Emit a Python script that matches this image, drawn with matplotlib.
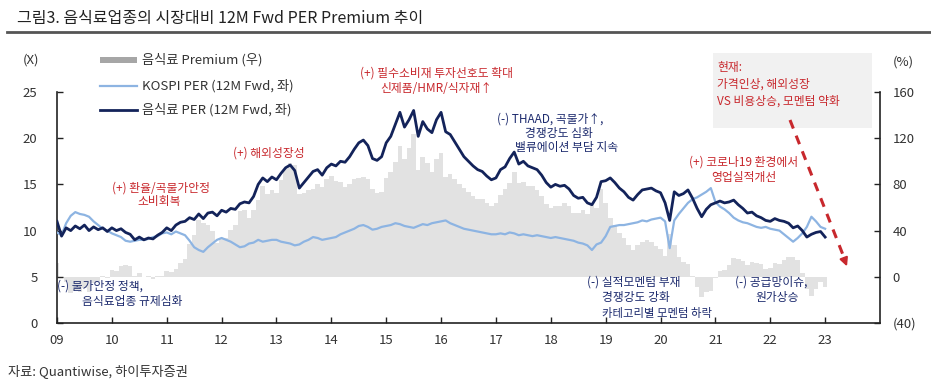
import matplotlib
matplotlib.use("Agg")
import matplotlib.pyplot as plt
import numpy as np
from matplotlib.lines import Line2D
from matplotlib.patches import Rectangle, FancyArrowPatch

plt.rcParams['font.family'] = ['Noto Sans CJK KR', 'DejaVu Sans']

# ---------------- data (monthly, Jan 2009 .. Jan 2023) ----------------
start_year = 2009
food_per = [
    # 2009
    11.0, 9.4, 10.3, 10.0, 10.5, 10.2, 10.6, 10.0, 10.4, 10.1, 10.3, 9.9,
    # 2010
    10.3, 10.0, 10.2, 9.8, 9.6, 9.0, 9.3, 9.0, 9.2, 9.1, 9.5, 9.8,
    # 2011
    10.3, 10.0, 10.6, 10.9, 11.0, 11.4, 11.2, 11.8, 11.3, 11.9, 12.0, 11.6,
    # 2012
    12.2, 12.0, 12.4, 12.3, 12.9, 13.1, 13.0, 13.7, 15.0, 15.7, 15.3, 15.8,
    # 2013
    15.5, 16.2, 16.8, 17.1, 16.5, 14.6, 15.2, 15.8, 16.4, 16.6, 16.0, 16.8,
    # 2014
    17.2, 17.0, 17.5, 17.4, 18.0, 18.8, 19.5, 19.8, 19.2, 17.8, 17.6, 18.0,
    # 2015
    19.5, 20.2, 21.5, 22.8, 21.2, 22.0, 23.0, 20.2, 21.8, 21.0, 20.6, 22.0,
    # 2016
    22.8, 20.7, 20.4, 19.6, 18.8, 18.0, 17.5, 17.0, 16.6, 16.4, 15.9, 15.5,
    # 2017
    15.7, 16.6, 16.9, 17.8, 18.5, 17.2, 17.5, 17.0, 16.8, 16.6, 16.0, 15.2,
    # 2018
    14.7, 15.0, 14.8, 14.9, 14.5, 13.8, 13.5, 13.6, 13.0, 12.8, 13.6, 15.3,
    # 2019
    15.4, 15.7, 15.2, 14.6, 14.2, 13.6, 13.3, 13.9, 14.4, 14.5, 14.6, 14.3,
    # 2020
    14.1, 13.0, 11.1, 14.2, 13.8, 14.0, 14.4, 13.5, 12.4, 11.5, 12.3, 12.8,
    # 2021
    13.0, 13.2, 13.0, 13.1, 13.3, 12.8, 12.4, 11.9, 12.0, 11.6, 11.4, 11.1,
    # 2022
    11.0, 11.3, 11.1, 11.0, 10.8, 10.3, 10.5, 10.0, 9.3, 9.6, 9.8, 9.9,
    # 2023
    9.3,
]
kospi_per = [
    # 2009
    9.8, 9.5, 10.8, 11.6, 12.0, 11.8, 11.7, 11.5, 11.0, 10.6, 10.2, 10.0,
    # 2010
    9.7, 9.5, 9.3, 8.9, 8.8, 8.9, 9.0, 9.0, 9.1, 9.3, 9.4, 9.7,
    # 2011
    9.8, 9.6, 9.9, 9.7, 9.5, 8.9, 8.2, 7.9, 7.7, 8.2, 8.6, 9.0,
    # 2012
    9.2, 9.0, 8.8, 8.5, 8.2, 8.3, 8.6, 8.7, 9.0, 8.8, 8.9, 9.0,
    # 2013
    9.0, 8.8, 8.7, 8.6, 8.4, 8.5, 8.8, 9.0, 9.3, 9.2, 9.0, 9.1,
    # 2014
    9.2, 9.3, 9.6, 9.8, 10.0, 10.2, 10.5, 10.6, 10.4, 10.1, 10.2, 10.4,
    # 2015
    10.5, 10.6, 10.8, 10.7, 10.5, 10.4, 10.3, 10.5, 10.7, 10.6, 10.8, 10.9,
    # 2016
    11.0, 11.1, 10.8, 10.6, 10.4, 10.2, 10.1, 10.0, 9.9, 9.8, 9.7, 9.6,
    # 2017
    9.6, 9.7, 9.6, 9.8, 9.7, 9.5, 9.6, 9.5, 9.4, 9.5, 9.4, 9.3,
    # 2018
    9.2, 9.3, 9.2, 9.1, 9.0, 8.9, 8.7, 8.6, 8.4, 7.9, 8.5, 8.7,
    # 2019
    9.4, 10.4, 10.5, 10.6, 10.6, 10.7, 10.8, 10.9, 11.1, 11.0, 11.2, 11.3,
    # 2020
    11.4, 11.0, 8.1, 11.1, 11.8, 12.4, 13.0, 13.4, 13.6, 13.9, 14.2, 14.6,
    # 2021
    13.1, 12.6, 12.3, 11.9, 11.4, 11.1, 10.9, 10.8, 10.6, 10.4, 10.3, 10.4,
    # 2022
    10.2, 10.1, 10.0, 9.6, 9.2, 8.8, 9.2, 9.7, 10.4, 11.5, 11.0, 10.4,
    # 2023
    10.2,
]
year_ticks = list(range(2009, 2024))
year_labels = ['09', '10', '11', '12', '13', '14', '15', '16', '17', '18',
               '19', '20', '21', '22', '23']
left_ticks = [0, 5, 10, 15, 20, 25]
right_ticks = [-40, 0, 40, 80, 120, 160]
right_labels = ['(40)', '0', '40', '80', '120', '160']

# ---------------- derived ----------------
food = np.array(food_per)
kospi = np.array(kospi_per)
t = start_year + np.arange(len(food)) / 12.0
premium = (food / kospi - 1.0) * 100.0

# ---------------- figure ----------------
W, H = 931, 392
fig = plt.figure(figsize=(W / 100, H / 100), dpi=100)
fig.patch.set_facecolor('white')

def fx(x):
    return x / W

def fy(y):
    return 1 - y / H

L, R, T, B = 57, 880, 92, 323
ax = fig.add_axes([fx(L), fy(B), (R - L) / W, (B - T) / H])
ax2 = ax.twinx()

NAVY = '#13235a'
LIGHT = '#8db4e2'
RED = '#c8282d'
ANAVY = '#1d2b6e'
TXT = '#333333'

# premium bars on right axis
ax2.bar(t, premium, width=1 / 12, color='#e2e2e2', linewidth=0, zorder=1)
ax2.set_ylim(-40, 160)
ax2.set_yticks(right_ticks)
ax2.set_yticklabels(right_labels)

# lines on left axis
ax.set_zorder(ax2.get_zorder() + 1)
ax.patch.set_visible(False)
ax.plot(t, kospi, color=LIGHT, lw=1.6, zorder=3)
ax.plot(t, food, color=NAVY, lw=2.0, zorder=4)
ax.set_xlim(2009, 2024)
ax.set_ylim(0, 25)
ax.set_yticks(left_ticks)
ax.set_xticks(year_ticks)
ax.set_xticklabels(year_labels)

for a in (ax, ax2):
    a.spines['top'].set_visible(False)
    for s in ('left', 'right', 'bottom'):
        a.spines[s].set_color('#222222')
        a.spines[s].set_linewidth(1.2)
ax.spines['right'].set_visible(False)
ax2.spines['left'].set_visible(False)
ax2.spines['bottom'].set_visible(False)

ax.tick_params(axis='y', direction='in', length=4, width=1, pad=14,
               labelsize=9.5, labelcolor=TXT, color='#222222')
ax.tick_params(axis='x', direction='in', length=4, width=1, pad=8,
               labelsize=9.5, labelcolor=TXT, color='#222222')
ax2.tick_params(axis='y', direction='in', length=4, width=1, pad=9,
                labelsize=9.5, labelcolor=TXT, color='#222222')

# ---------------- titles / axis units ----------------
fig.text(fx(17), fy(18), '그림3. 음식료업종의 시장대비 12M Fwd PER Premium 추이',
         fontsize=11.5, color='#222222', va='center', ha='left')
fig.add_artist(Line2D([fx(7), fx(931)], [fy(32), fy(32)], color='#555555', lw=2))
fig.text(fx(23), fy(60), '(X)', fontsize=9.5, color=TXT, va='center', ha='left')
fig.text(fx(893), fy(62), '(%)', fontsize=9.5, color=TXT, va='center', ha='left')
fig.text(fx(8), fy(371), '자료: Quantiwise, 하이투자증권', fontsize=9.5,
         color=TXT, va='center', ha='left')

# ---------------- legend (manual) ----------------
fig.add_artist(Rectangle((fx(100), fy(63)), 37 / W, 6 / H,
                         transform=fig.transFigure, facecolor='#a6a6a6',
                         edgecolor='none'))
fig.add_artist(Line2D([fx(100), fx(137)], [fy(86), fy(86)], color=LIGHT, lw=1.6))
fig.add_artist(Line2D([fx(100), fx(137)], [fy(110), fy(110)], color=NAVY, lw=2.0))
fig.text(fx(142), fy(60), '음식료 Premium (우)', fontsize=9.5, color=TXT, va='center')
fig.text(fx(142), fy(86), 'KOSPI PER (12M Fwd, 좌)', fontsize=9.5, color=TXT, va='center')
fig.text(fx(142), fy(110), '음식료 PER (12M Fwd, 좌)', fontsize=9.5, color=TXT, va='center')

# ---------------- annotations ----------------
AF = 8.5
def note(x, y, s, c, ha='left', fs=AF):
    fig.text(fx(x), fy(y), s, fontsize=fs, color=c, ha=ha, va='center')

note(436, 73, '(+) 필수소비재 투자선호도 확대', RED, ha='center')
note(436, 88, '신제품/HMR/식자재↑', RED, ha='center')

note(497, 119, '(-) THAAD, 곡물가↑,', ANAVY)
note(525, 133, '경쟁강도 심화', ANAVY)
note(515, 147, '밸류에이션 부담 지속', ANAVY)

note(233, 153, '(+) 해외성장성', RED)

note(112, 188, '(+) 환율/곡물가안정', RED)
note(137, 201, '소비회복', RED)

note(57, 286, '(-) 물가안정 정책,', ANAVY)
note(82, 301, '음식료업종 규제심화', ANAVY)

note(587, 282, '(-) 실적모멘텀 부재', ANAVY)
note(602, 297, '경쟁강도 강화', ANAVY)
note(602, 313, '카테고리별 모멘텀 하락', ANAVY, fs=8.2)

note(735, 282, '(-) 공급망이슈,', ANAVY)
note(755, 297, '원가상승', ANAVY)

note(744, 162, '(+) 코로나19 환경에서', RED, ha='center')
note(744, 178, '영업실적개선', RED, ha='center')

# current-state box
fig.add_artist(Rectangle((fx(713), fy(128)), (872 - 713) / W, (128 - 53) / H,
                         transform=fig.transFigure, facecolor='#f1f1f1',
                         edgecolor='none', zorder=5))
fig.text(fx(717), fy(67), '현재:', fontsize=AF, color=RED, va='center', zorder=6)
fig.text(fx(717), fy(84), '가격인상, 해외성장', fontsize=AF, color=RED, va='center', zorder=6)
fig.text(fx(717), fy(101), 'VS 비용상승, 모멘텀 약화', fontsize=AF, color=RED,
         va='center', zorder=6)

# dashed arrow
fig.add_artist(Line2D([fx(790), fx(845)], [fy(120), fy(260)], color=RED, lw=2.2,
                      ls=(0, (3, 2.5)), zorder=6))
fig.add_artist(FancyArrowPatch((fx(843), fy(256)), (fx(848), fy(269)),
                               transform=fig.transFigure, arrowstyle='-|>',
                               mutation_scale=12, color=RED, lw=1.5, zorder=6))

fig.savefig('out.png', dpi=100, facecolor='white')
